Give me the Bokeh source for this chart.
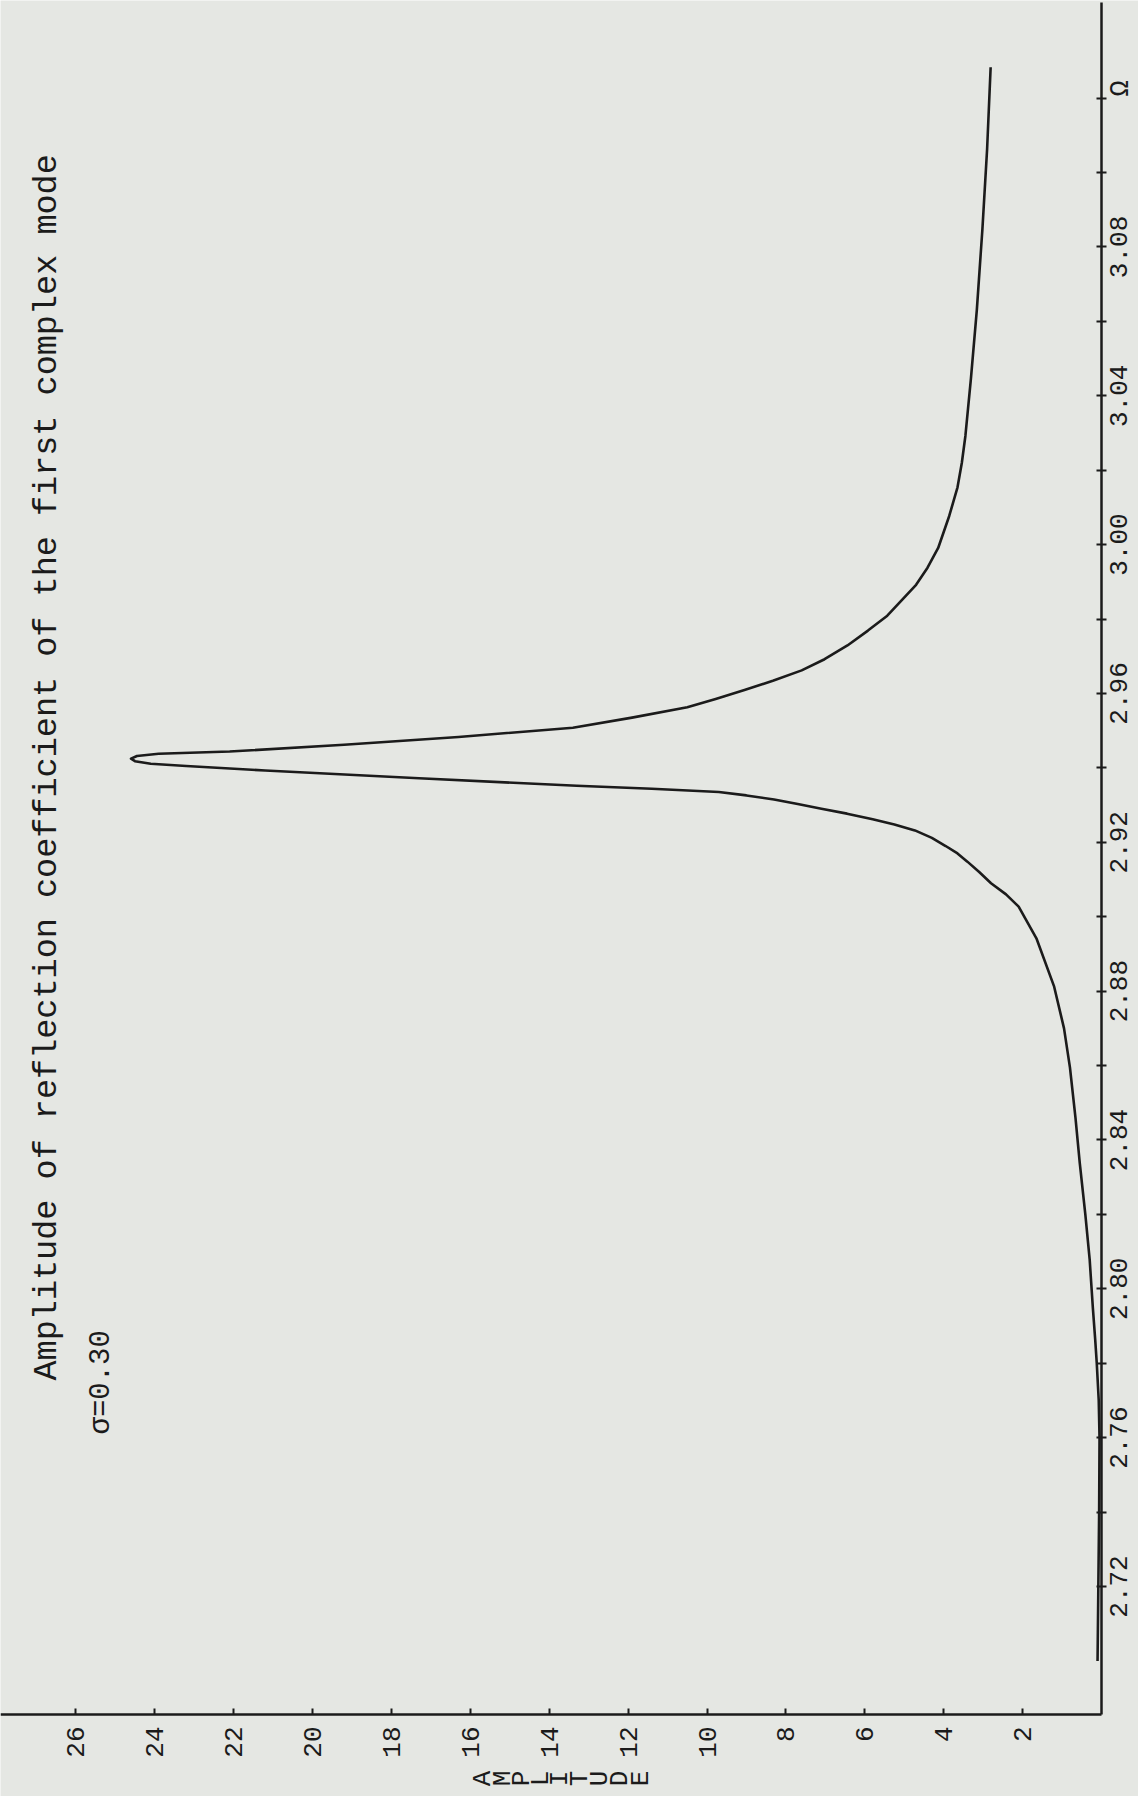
import math
from bokeh.plotting import figure
from bokeh.models import Range1d, LinearAxis, FixedTicker
from bokeh.core.properties import value
from bokeh.embed import file_html
from bokeh.resources import INLINE

# ---- data ----
omega = [2.700, 2.720, 2.740, 2.760, 2.770, 2.780, 2.7864, 2.795, 2.8079, 2.820,
         2.8337, 2.846, 2.8595, 2.870, 2.8812, 2.8942, 2.9027, 2.906, 2.909, 2.912,
         2.9148, 2.917, 2.919, 2.9212, 2.9232, 2.9248, 2.9262, 2.9277, 2.929, 2.9303,
         2.9315, 2.9326, 2.9335, 2.9344, 2.9352, 2.9372, 2.9393, 2.9405, 2.9411, 2.9418,
         2.9425, 2.9432, 2.9438, 2.9444, 2.9462, 2.9483, 2.9508, 2.9535, 2.9563, 2.9585,
         2.9609, 2.9634, 2.9662, 2.9692, 2.9729, 2.9769, 2.9809, 2.9852, 2.9892, 2.9938,
         2.9991, 3.0077, 3.0154, 3.0220, 3.0292, 3.0446, 3.0631, 3.0846, 3.1062, 3.1283]
amplitude = [0.10, 0.08, 0.06, 0.05, 0.07, 0.12, 0.16, 0.22, 0.30, 0.41,
             0.55, 0.66, 0.80, 0.95, 1.20, 1.65, 2.10, 2.42, 2.80, 3.10,
             3.40, 3.65, 3.95, 4.30, 4.73, 5.25, 5.80, 6.45, 7.10, 7.70,
             8.30, 9.00, 9.70, 11.4, 13.3, 17.3, 21.2, 23.2, 24.1, 24.5,
             24.6, 24.45, 23.9, 22.1, 19.2, 16.3, 13.4, 11.9, 10.5, 9.78,
             9.05, 8.33, 7.6, 7.02, 6.44, 5.92, 5.43, 5.05, 4.70, 4.41,
             4.14, 3.86, 3.65, 3.54, 3.45, 3.31, 3.16, 3.02, 2.90, 2.81]

omega_labeled_ticks = [2.72, 2.76, 2.80, 2.84, 2.88, 2.92, 2.96, 3.00, 3.04, 3.08]
omega_tick_labels = ["2.72", "2.76", "2.80", "2.84", "2.88", "2.92", "2.96", "3.00", "3.04", "3.08"]
omega_unlabeled_ticks = [2.74, 2.78, 2.82, 2.86, 2.90, 2.94, 2.98, 3.02, 3.06, 3.10, 3.12]
amplitude_ticks = [2, 4, 6, 8, 10, 12, 14, 16, 18, 20, 22, 24, 26]

title_text = "Amplitude of reflection coefficient of the first complex mode"
sigma_text = "\u03c3=0.30"
omega_name = "\u03a9"
amplitude_letters = list("AMPLITUDE")

# ---- layout (screen pixels) ----
W, H = 1138, 1796
AXIS_X = 1101          # screen x of amplitude 0 (the Omega axis)
PX_PER_A = 39.45
Y_272 = 1586           # screen y of Omega = 2.72
PX_PER_OMEGA = 3721.0
AXIS_Y = 1714          # screen y of the amplitude axis

def a_at(sx):
    return (AXIS_X - sx) / PX_PER_A

def o_at(sy):
    return 2.72 + (Y_272 - sy) / PX_PER_OMEGA

PAPER = "#e5e7e3"
INK = "#1b1b1b"
FONT = "Liberation Mono"

p = figure(width=W, height=H, output_backend="svg", toolbar_location=None,
           x_axis_location=None, y_axis_location=None,
           x_range=Range1d(a_at(0), a_at(W)), y_range=Range1d(o_at(H), o_at(0)),
           min_border=0)
p.background_fill_color = PAPER
p.border_fill_color = PAPER
p.outline_line_color = None
p.xgrid.grid_line_color = None
p.ygrid.grid_line_color = None

ax_o = LinearAxis(ticker=FixedTicker(ticks=omega_labeled_ticks, minor_ticks=omega_unlabeled_ticks),
                  fixed_location=0, bounds=(o_at(AXIS_Y), o_at(2)))
ax_o.axis_line_width = 2.5
ax_o.axis_line_color = INK
ax_o.major_tick_in = 5
ax_o.major_tick_out = 5
ax_o.minor_tick_in = 5
ax_o.minor_tick_out = 5
ax_o.major_tick_line_width = 2
ax_o.minor_tick_line_width = 2
ax_o.major_tick_line_color = INK
ax_o.minor_tick_line_color = INK
ax_o.major_label_text_color = None
p.add_layout(ax_o, "right")

ax_a = LinearAxis(ticker=FixedTicker(ticks=amplitude_ticks),
                  fixed_location=o_at(AXIS_Y), bounds=(0, a_at(0)))
ax_a.major_label_orientation = math.pi / 2
ax_a.axis_line_width = 2.5
ax_a.axis_line_color = INK
ax_a.major_tick_in = 6
ax_a.major_tick_out = 0
ax_a.major_tick_line_width = 2
ax_a.major_tick_line_color = INK
ax_a.minor_tick_line_color = None
ax_a.major_label_standoff = 12
ax_a.major_label_text_font = FONT
ax_a.major_label_text_font_size = "26px"
ax_a.major_label_text_color = INK
p.add_layout(ax_a, "below")

# Omega tick labels, centred on their ticks and reading upward
p.text(x=[a_at(1118)] * len(omega_labeled_ticks), y=omega_labeled_ticks, text=omega_tick_labels,
       angle=math.pi / 2, text_align="center", text_baseline="middle",
       text_font=value(FONT), text_font_size="26px", text_color=INK)

p.line(x=amplitude, y=omega, line_width=2.6, line_color=INK, line_join="round")

p.text(x=[a_at(46)], y=[o_at(1380)], text=[title_text], angle=math.pi / 2,
       text_align="left", text_baseline="middle", text_font=value(FONT),
       text_font_size="33.5px", text_color=INK)
p.text(x=[a_at(101)], y=[o_at(1434)], text=[sigma_text], angle=math.pi / 2,
       text_align="left", text_baseline="middle", text_font=value(FONT),
       text_font_size="29px", text_color=INK)
p.text(x=[a_at(1120)], y=[o_at(88)], text=[omega_name], angle=math.pi / 2,
       text_align="center", text_baseline="middle", text_font=value(FONT),
       text_font_size="27px", text_color=INK)

letter_x = [482, 502, 521, 540, 559, 579, 599, 619, 640]
p.text(x=[a_at(sx) for sx in letter_x], y=[o_at(1778)] * len(letter_x), text=amplitude_letters,
       angle=math.pi / 2, text_align="center", text_baseline="middle",
       text_font=value(FONT), text_font_size="26px", text_color=INK)

open("out.html", "w").write(file_html(p, INLINE))
